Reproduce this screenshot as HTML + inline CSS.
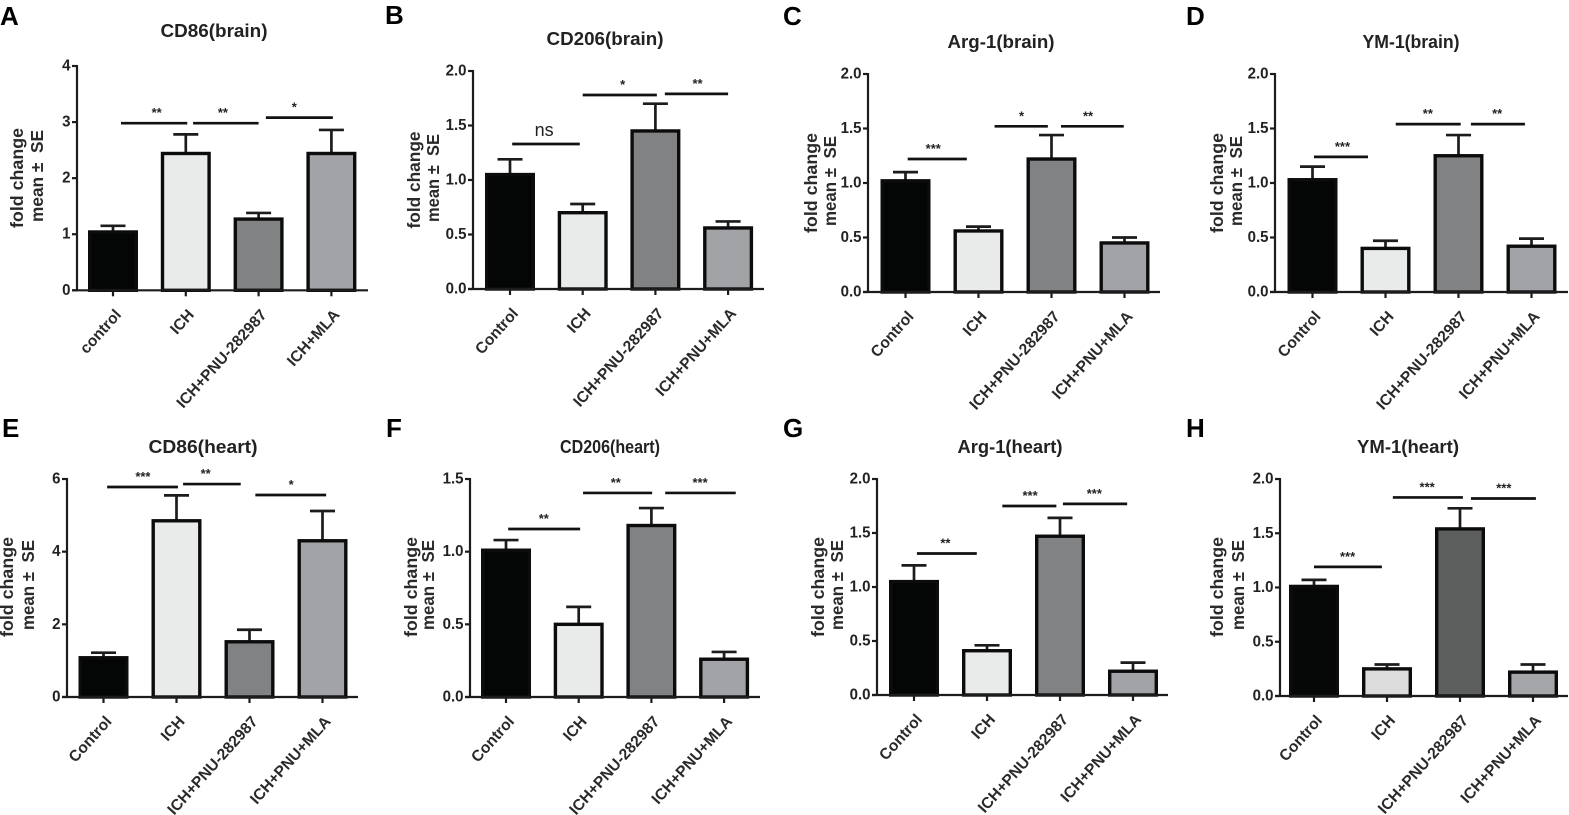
<!DOCTYPE html>
<html>
<head>
<meta charset="utf-8">
<title>Fold change bar charts</title>
<style>
html,body{margin:0;padding:0;background:#fff;width:1569px;height:815px;overflow:hidden}
svg{display:block;filter:blur(0.35px)}
text{font-family:"Liberation Sans",sans-serif;fill:#1e1e1e}
.letter{font-size:26px;font-weight:bold;fill:#000}
.title{font-size:18px;font-weight:bold;text-anchor:middle;fill:#222}
.ylab{font-size:17.5px;font-weight:bold;text-anchor:middle;dominant-baseline:central;fill:#2a2a2a;white-space:pre}
.ytick{font-size:15.5px;font-weight:bold;text-anchor:end;dominant-baseline:central;fill:#222}
.xtick{font-size:15.6px;font-weight:bold;text-anchor:end;fill:#2a2a2a}
.sig{font-size:13px;font-weight:bold;text-anchor:middle;fill:#222}
.ns{font-size:18px;font-weight:normal;text-anchor:middle;fill:#222}
</style>
</head>
<body>
<svg id="figure" width="1569" height="815" viewBox="0 0 1569 815" xmlns="http://www.w3.org/2000/svg">
<text class="letter" x="0" y="25">A</text>
<text class="letter" x="385" y="24">B</text>
<text class="letter" x="783" y="25">C</text>
<text class="letter" x="1186" y="25">D</text>
<text class="letter" x="2" y="437">E</text>
<text class="letter" x="386" y="437">F</text>
<text class="letter" x="783" y="437">G</text>
<text class="letter" x="1186" y="437">H</text>

<text class="title" x="214" y="37" textLength="107" lengthAdjust="spacingAndGlyphs">CD86(brain)</text>
<text class="title" x="605" y="45" textLength="117" lengthAdjust="spacingAndGlyphs">CD206(brain)</text>
<text class="title" x="1001" y="48" textLength="107" lengthAdjust="spacingAndGlyphs">Arg-1(brain)</text>
<text class="title" x="1411" y="48" textLength="97" lengthAdjust="spacingAndGlyphs">YM-1(brain)</text>
<text class="title" x="203" y="453" textLength="109" lengthAdjust="spacingAndGlyphs">CD86(heart)</text>
<text class="title" x="610" y="453" textLength="100" lengthAdjust="spacingAndGlyphs">CD206(heart)</text>
<text class="title" x="1010" y="453" textLength="105" lengthAdjust="spacingAndGlyphs">Arg-1(heart)</text>
<text class="title" x="1408" y="453" textLength="102" lengthAdjust="spacingAndGlyphs">YM-1(heart)</text>

<text class="ylab" transform="translate(17,178) rotate(-90)" textLength="100" lengthAdjust="spacingAndGlyphs">fold change</text>
<text class="ylab" transform="translate(37,176) rotate(-90)" textLength="92" lengthAdjust="spacingAndGlyphs">mean ±  SE</text>
<text class="ylab" transform="translate(414,180) rotate(-90)" textLength="97" lengthAdjust="spacingAndGlyphs">fold change</text>
<text class="ylab" transform="translate(433,178) rotate(-90)" textLength="88" lengthAdjust="spacingAndGlyphs">mean ±  SE</text>
<text class="ylab" transform="translate(811,183) rotate(-90)" textLength="100" lengthAdjust="spacingAndGlyphs">fold change</text>
<text class="ylab" transform="translate(830,181) rotate(-90)" textLength="90" lengthAdjust="spacingAndGlyphs">mean ±  SE</text>
<text class="ylab" transform="translate(1217,183) rotate(-90)" textLength="100" lengthAdjust="spacingAndGlyphs">fold change</text>
<text class="ylab" transform="translate(1236,181) rotate(-90)" textLength="90" lengthAdjust="spacingAndGlyphs">mean ±  SE</text>
<text class="ylab" transform="translate(7,587) rotate(-90)" textLength="100" lengthAdjust="spacingAndGlyphs">fold change</text>
<text class="ylab" transform="translate(28,585) rotate(-90)" textLength="90" lengthAdjust="spacingAndGlyphs">mean ±  SE</text>
<text class="ylab" transform="translate(411,587) rotate(-90)" textLength="100" lengthAdjust="spacingAndGlyphs">fold change</text>
<text class="ylab" transform="translate(428,585) rotate(-90)" textLength="90" lengthAdjust="spacingAndGlyphs">mean ±  SE</text>
<text class="ylab" transform="translate(818,587) rotate(-90)" textLength="100" lengthAdjust="spacingAndGlyphs">fold change</text>
<text class="ylab" transform="translate(837,585) rotate(-90)" textLength="90" lengthAdjust="spacingAndGlyphs">mean ±  SE</text>
<text class="ylab" transform="translate(1217,587) rotate(-90)" textLength="100" lengthAdjust="spacingAndGlyphs">fold change</text>
<text class="ylab" transform="translate(1238,585) rotate(-90)" textLength="90" lengthAdjust="spacingAndGlyphs">mean ±  SE</text>
</svg>

<script>
// Categories
const categoriesA = ['control', 'ICH', 'ICH+PNU-282987', 'ICH+MLA'];
const categoriesStd = ['Control', 'ICH', 'ICH+PNU-282987', 'ICH+PNU+MLA'];

// Y tick labels
const ticksA = ['0', '1', '2', '3', '4'];
const ticksE = ['0', '2', '4', '6'];
const ticksUnit = ['0.0', '0.5', '1.0', '1.5', '2.0'];
const ticksF = ['0.0', '0.5', '1.0', '1.5'];

// Means
const meansA = [1.04, 2.44, 1.27, 2.44];
const meansB = [1.05, 0.70, 1.45, 0.56];
const meansC = [1.02, 0.56, 1.22, 0.45];
const meansD = [1.03, 0.40, 1.25, 0.42];
const meansE = [1.08, 4.85, 1.52, 4.30];
const meansF = [1.01, 0.50, 1.18, 0.26];
const meansG = [1.05, 0.41, 1.47, 0.22];
const meansH = [1.01, 0.25, 1.54, 0.22];

// Standard errors
const errorsA = [0.11, 0.34, 0.11, 0.42];
const errorsB = [0.14, 0.08, 0.25, 0.06];
const errorsC = [0.08, 0.04, 0.22, 0.05];
const errorsD = [0.12, 0.07, 0.19, 0.07];
const errorsE = [0.14, 0.70, 0.33, 0.82];
const errorsF = [0.07, 0.12, 0.12, 0.05];
const errorsG = [0.15, 0.05, 0.17, 0.08];
const errorsH = [0.06, 0.04, 0.19, 0.07];

// Significance brackets: from category, to category, value level, label, label category
const sigA = [[0.11, 1.02, 2.98, '**', 0.60], [1.10, 2.00, 2.98, '**', 1.51], [2.10, 3.02, 3.08, '*', 2.49]];
const sigB = [[0.03, 0.96, 1.33, 'ns', 0.47], [1.00, 2.02, 1.78, '*', 1.55], [2.13, 3.00, 1.79, '**', 2.58]];
const sigC = [[0.03, 0.84, 1.22, '***', 0.38], [1.22, 1.95, 1.52, '*', 1.59], [2.13, 2.99, 1.52, '**', 2.50]];
const sigD = [[0.02, 0.76, 1.24, '***', 0.41], [1.14, 2.03, 1.54, '**', 1.58], [2.17, 2.91, 1.54, '**', 2.53]];
const sigE = [[0.05, 1.02, 5.78, '***', 0.54], [1.09, 1.88, 5.86, '**', 1.40], [2.08, 3.05, 5.56, '*', 2.57]];
const sigF = [[0.03, 1.02, 1.156, '**', 0.52], [1.06, 2.01, 1.404, '**', 1.51], [2.19, 3.16, 1.404, '***', 2.67]];
const sigG = [[0.04, 0.86, 1.31, '**', 0.43], [1.21, 1.95, 1.75, '***', 1.59], [2.04, 2.92, 1.77, '***', 2.47]];
const sigH = [[0.00, 0.93, 1.19, '***', 0.46], [1.08, 2.04, 1.83, '***', 1.55], [2.15, 3.04, 1.82, '***', 2.60]];

// Bar fills
const fillsStd = ['#040606', '#e9ebea', '#808284', '#a2a3a7'];
const fillsH = ['#060808', '#dcdcdc', '#5d5f5f', '#a5a6a9'];

const NS = 'http://www.w3.org/2000/svg';
const svg = document.getElementById('figure');

function make(parent, tag, attrs, txt) {
  const e = document.createElementNS(NS, tag);
  for (const k in attrs) e.setAttribute(k, attrs[k]);
  if (txt !== undefined) e.textContent = txt;
  parent.appendChild(e);
  return e;
}

function drawPanel(p) {
  const INK = '#1c1c1c';
  const maxV = parseFloat(p.ticks[p.ticks.length - 1]);
  const yScale = v => p.y0 - (v / maxV) * (p.y0 - p.yTop);
  const xScale = i => p.cx0 + p.step * i;

  const g = make(svg, 'g', {});
  
  

  p.means.forEach((m, i) => {
    const cx = xScale(i);
    const top = yScale(m + p.errors[i]);
    const stem = make(g, 'line', {x1: cx, x2: cx, y1: yScale(m), y2: top, stroke: INK, 'stroke-width': 2.7});
    
    
    const cap = make(g, 'line', {x1: cx - 12.5, x2: cx + 12.5, y1: top, y2: top, stroke: INK, 'stroke-width': 2.7});
    
    
    const bar = make(g, 'rect', {x: cx - 23.3, y: yScale(m), width: 46.6, height: p.y0 - yScale(m), fill: p.fills[i], stroke: '#0c0c0c', 'stroke-width': 3.4});
    
    
  });

  const yAxis = make(g, 'line', {x1: p.xAxis, x2: p.xAxis, y1: p.yTop - 1, y2: p.y0 + 1, stroke: INK, 'stroke-width': 2.2});
  
  
  const xAxis = make(g, 'line', {x1: p.xAxis - 5, x2: p.xEnd, y1: p.y0, y2: p.y0, stroke: INK, 'stroke-width': 2.2});
  
  

  p.ticks.forEach(label => {
    const y = yScale(parseFloat(label));
    const tick = make(g, 'line', {x1: p.xAxis - 5, x2: p.xAxis, y1: y, y2: y, stroke: INK, 'stroke-width': 2.2});
    
    
    const t = make(g, 'text', {class: 'ytick', x: p.xAxis - 6.5, y: y}, label);
    
    
    t.setAttribute('textLength', t.getComputedTextLength() * 0.97);
    t.setAttribute('lengthAdjust', 'spacingAndGlyphs');
  });

  p.categories.forEach((c, i) => {
    const cx = xScale(i);
    const tick = make(g, 'line', {x1: cx, x2: cx, y1: p.y0, y2: p.y0 + 6, stroke: INK, 'stroke-width': 2.2});
    
    
    const ax = cx + 9;
    const ay = p.y0 + 25;
    const t = make(g, 'text', {class: 'xtick', x: ax, y: ay, transform: 'rotate(-48 ' + ax + ' ' + ay + ')'}, c);
    
    
  });

  p.sig.forEach((s, i) => {
    const x1 = xScale(s[0]);
    const x2 = xScale(s[1]);
    const y = yScale(s[2]);
    const line = make(g, 'line', {x1: x1, x2: x2, y1: y, y2: y, stroke: '#111', 'stroke-width': 2.7});
    
    
    const isNs = s[3] === 'ns';
    const t = make(g, 'text', {class: isNs ? 'ns' : 'sig', x: xScale(s[4]), y: isNs ? y - 8 : y - 6}, s[3]);
    
    
  });
}

const panels = [
  {id: 'a', categories: categoriesA, ticks: ticksA, means: meansA, errors: errorsA, sig: sigA, fills: fillsStd, xAxis: 77, xEnd: 368, y0: 290.3, yTop: 66, cx0: 113, step: 72.8},
  {id: 'b', categories: categoriesStd, ticks: ticksUnit, means: meansB, errors: errorsB, sig: sigB, fills: fillsStd, xAxis: 473, xEnd: 764, y0: 289, yTop: 71, cx0: 510, step: 72.7},
  {id: 'c', categories: categoriesStd, ticks: ticksUnit, means: meansC, errors: errorsC, sig: sigC, fills: fillsStd, xAxis: 868, xEnd: 1160, y0: 292, yTop: 74, cx0: 905.5, step: 73},
  {id: 'd', categories: categoriesStd, ticks: ticksUnit, means: meansD, errors: errorsD, sig: sigD, fills: fillsStd, xAxis: 1275, xEnd: 1568, y0: 292, yTop: 74, cx0: 1312.5, step: 73},
  {id: 'e', categories: categoriesStd, ticks: ticksE, means: meansE, errors: errorsE, sig: sigE, fills: fillsStd, xAxis: 67, xEnd: 358, y0: 697, yTop: 479, cx0: 103.5, step: 73},
  {id: 'f', categories: categoriesStd, ticks: ticksF, means: meansF, errors: errorsF, sig: sigF, fills: fillsStd, xAxis: 470, xEnd: 760, y0: 697, yTop: 479, cx0: 506, step: 72.7},
  {id: 'g', categories: categoriesStd, ticks: ticksUnit, means: meansG, errors: errorsG, sig: sigG, fills: fillsStd, xAxis: 877, xEnd: 1168, y0: 695, yTop: 479, cx0: 914, step: 73},
  {id: 'h', categories: categoriesStd, ticks: ticksUnit, means: meansH, errors: errorsH, sig: sigH, fills: fillsH, xAxis: 1280, xEnd: 1568, y0: 696, yTop: 479, cx0: 1314, step: 73}
];

panels.forEach(drawPanel);
</script>
</body>
</html>
